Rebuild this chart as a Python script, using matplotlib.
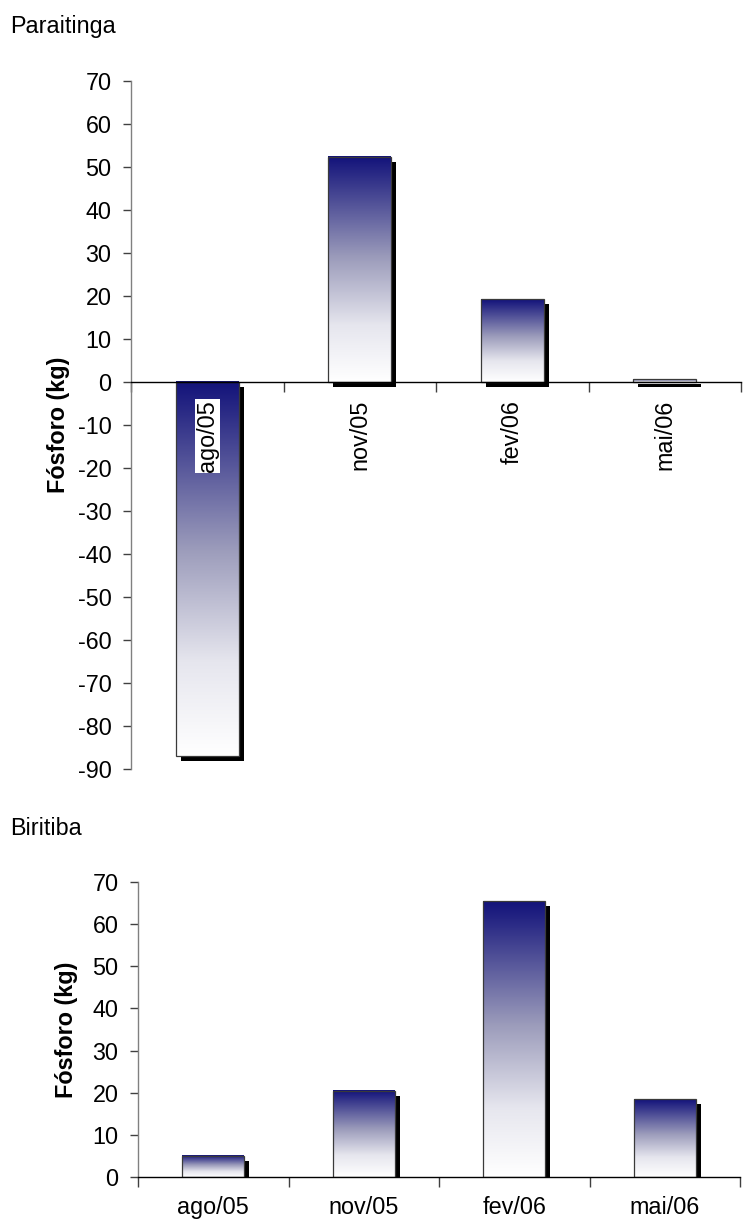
import matplotlib
matplotlib.use("Agg")
import matplotlib.pyplot as plt
import numpy as np
from matplotlib.colors import LinearSegmentedColormap
from matplotlib.patches import Rectangle
from matplotlib.transforms import offset_copy

plt.rcParams['font.family'] = ['Liberation Sans', 'DejaVu Sans']
plt.rcParams['axes.unicode_minus'] = False

# Data
months = ['ago/05', 'nov/05', 'fev/06', 'mai/06']
paraitinga = [-87.0, 52.4, 19.2, 0.6]
biritiba = [5.0, 20.5, 65.4, 18.4]
ylabel = 'Fósforo (kg)'

W, H = 749, 1226
fig = plt.figure(figsize=(W / 100, H / 100), dpi=100)

FS = 16.8
navy_white = LinearSegmentedColormap.from_list(
    'navy_white', [(0.0, '#ffffff'), (0.25, '#e6e6ee'), (0.55, '#9c9cbb'), (1.0, '#12127a')])
grad = np.linspace(1, 0, 256).reshape(-1, 1)


def ax_rect(left, right, top, bottom):
    return [left / W, 1 - bottom / H, (right - left) / W, (bottom - top) / H]


def draw_bars(ax, values, width=0.41):
    shadow_tr = offset_copy(ax.transData, fig=fig, x=5, y=-5, units='dots')
    for i, v in enumerate(values):
        x0 = i + 0.5 - width / 2
        y0, y1 = min(0, v), max(0, v)
        ax.add_patch(Rectangle((x0, y0), width, y1 - y0, facecolor='black',
                               edgecolor='none', transform=shadow_tr, zorder=1))
        ax.imshow(grad, cmap=navy_white, vmin=0, vmax=1, origin='upper',
                  extent=(x0, x0 + width, y0, y1), aspect='auto',
                  interpolation='bilinear', zorder=2)
        ax.add_patch(Rectangle((x0, y0), width, y1 - y0, facecolor='none',
                               edgecolor='#3a3a3a', linewidth=0.9, zorder=3))


def style_axes(ax, ymin, ymax):
    ax.set_xlim(0, 4)
    ax.set_ylim(ymin, ymax)
    ax.set_aspect('auto')
    for s in ('top', 'right'):
        ax.spines[s].set_visible(False)
    ax.spines['left'].set_color('#808080')
    ax.spines['left'].set_linewidth(1.0)
    ax.spines['bottom'].set_color('black')
    ax.spines['bottom'].set_linewidth(1.0)
    ax.spines['bottom'].set_zorder(4)
    ax.set_yticks(np.arange(ymin, ymax + 1, 10))
    ax.tick_params(axis='y', length=6, width=1, color='#404040', pad=8, labelsize=FS)
    ax.set_xticks(np.arange(0, 5))
    ax.set_xticklabels([])
    ax.tick_params(axis='x', length=7, width=1, color='#404040')


# Paraitinga
ax1 = fig.add_axes(ax_rect(131, 741, 81, 769))
draw_bars(ax1, paraitinga)
style_axes(ax1, -90, 70)
ax1.spines['bottom'].set_position(('data', 0))
for i, m in enumerate(months):
    ax1.annotate(m, xy=(i + 0.5, 0), xytext=(0, -18), textcoords='offset pixels',
                 rotation=90, ha='center', va='top', fontsize=FS, zorder=5,
                 bbox=dict(boxstyle='square,pad=0.05', facecolor='white', edgecolor='none'))
fig.text(10 / W, 1 - 33 / H, 'Paraitinga', fontsize=FS, va='baseline', ha='left')
fig.text(58 / W, 1 - 425 / H, ylabel, fontsize=FS, fontweight='bold',
         rotation=90, ha='center', va='center')

# Biritiba
ax2 = fig.add_axes(ax_rect(138, 740, 882, 1177))
draw_bars(ax2, biritiba)
style_axes(ax2, 0, 70)
for i, m in enumerate(months):
    ax2.annotate(m, xy=(i + 0.5, 0), xytext=(0, -19), textcoords='offset pixels',
                 ha='center', va='top', fontsize=FS)
fig.text(10 / W, 1 - 835 / H, 'Biritiba', fontsize=FS, va='baseline', ha='left')
fig.text(67 / W, 1 - 1030 / H, ylabel, fontsize=FS, fontweight='bold',
         rotation=90, ha='center', va='center')

fig.savefig('out.png', dpi=100)
